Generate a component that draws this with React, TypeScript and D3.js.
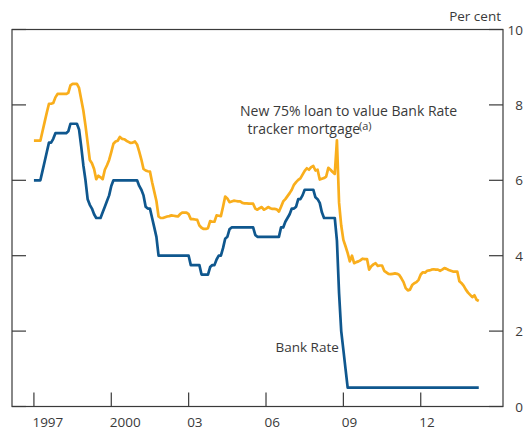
import { useEffect, useRef } from 'react';
import * as d3 from 'd3';

// monthly values, Jan 1997 to Apr 2014
const startYear = 1997;

const bankRate = [
  6, 6, 6, 6, 6.25, 6.5, 6.75, 7, 7, 7.1, 7.25, 7.25, // 1997
  7.25, 7.25, 7.25, 7.25, 7.3, 7.5, 7.5, 7.5, 7.5, 7.35, 6.9, 6.4, // 1998
  6, 5.5, 5.35, 5.25, 5.1, 5, 5, 5, 5.15, 5.3, 5.45, 5.6, // 1999
  5.85, 6, 6, 6, 6, 6, 6, 6, 6, 6, 6, 6, // 2000
  6, 5.85, 5.75, 5.6, 5.3, 5.25, 5.25, 5, 4.75, 4.5, 4, 4, // 2001
  4, 4, 4, 4, 4, 4, 4, 4, 4, 4, 4, 4, // 2002
  4, 3.75, 3.75, 3.75, 3.75, 3.75, 3.5, 3.5, 3.5, 3.5, 3.7, 3.75, // 2003
  3.75, 3.9, 4, 4, 4.2, 4.45, 4.5, 4.7, 4.75, 4.75, 4.75, 4.75, // 2004
  4.75, 4.75, 4.75, 4.75, 4.75, 4.75, 4.75, 4.55, 4.5, 4.5, 4.5, 4.5, // 2005
  4.5, 4.5, 4.5, 4.5, 4.5, 4.5, 4.5, 4.75, 4.75, 4.9, 5, 5.1, // 2006
  5.25, 5.25, 5.3, 5.5, 5.5, 5.6, 5.75, 5.75, 5.75, 5.75, 5.75, 5.55, // 2007
  5.5, 5.4, 5.15, 5, 5, 5, 5, 5, 5, 4.4, 3, 2, // 2008
  1.5, 1, 0.5, 0.5, 0.5, 0.5, 0.5, 0.5, 0.5, 0.5, 0.5, 0.5, // 2009
  0.5, 0.5, 0.5, 0.5, 0.5, 0.5, 0.5, 0.5, 0.5, 0.5, 0.5, 0.5, // 2010
  0.5, 0.5, 0.5, 0.5, 0.5, 0.5, 0.5, 0.5, 0.5, 0.5, 0.5, 0.5, // 2011
  0.5, 0.5, 0.5, 0.5, 0.5, 0.5, 0.5, 0.5, 0.5, 0.5, 0.5, 0.5, // 2012
  0.5, 0.5, 0.5, 0.5, 0.5, 0.5, 0.5, 0.5, 0.5, 0.5, 0.5, 0.5, // 2013
  0.5, 0.5, 0.5, 0.5, // 2014
];

const trackerRate = [
  7.05, 7.05, 7.05, 7.05, 7.3, 7.55, 7.8, 8.03, 8.03, 8.05, 8.2, 8.29, // 1997
  8.29, 8.29, 8.29, 8.29, 8.32, 8.52, 8.56, 8.56, 8.56, 8.45, 8.15, 7.85, // 1998
  7.45, 7, 6.54, 6.45, 6.3, 6.03, 6.12, 6.08, 6.03, 6.28, 6.4, 6.54, // 1999
  6.75, 6.97, 7.03, 7.05, 7.15, 7.1, 7.09, 7.05, 7.02, 6.99, 7, 7.03, // 2000
  6.95, 6.76, 6.55, 6.3, 6.26, 6.24, 6.23, 5.95, 5.7, 5.45, 5.04, 5, // 2001
  5, 5.02, 5.04, 5.05, 5.07, 5.06, 5.05, 5.04, 5.1, 5.14, 5.14, 5.14, // 2002
  5.1, 4.97, 4.97, 4.96, 4.95, 4.8, 4.74, 4.71, 4.71, 4.73, 4.92, 4.9, // 2003
  4.9, 5.07, 5.06, 5.05, 5.3, 5.57, 5.52, 5.42, 5.44, 5.46, 5.45, 5.44, // 2004
  5.44, 5.4, 5.39, 5.39, 5.38, 5.38, 5.38, 5.25, 5.22, 5.26, 5.29, 5.22, // 2005
  5.25, 5.29, 5.26, 5.24, 5.24, 5.23, 5.17, 5.3, 5.44, 5.5, 5.58, 5.66, // 2006
  5.75, 5.88, 5.95, 6.01, 6.05, 6.15, 6.25, 6.32, 6.28, 6.35, 6.38, 6.26, // 2007
  6.28, 6.02, 6.04, 6.06, 6.1, 6.33, 6.28, 6.22, 6.17, 7.06, 5.4, 4.8, // 2008
  4.42, 4.25, 4.07, 3.85, 4, 3.8, 3.83, 3.85, 3.88, 3.92, 3.91, 3.91, // 2009
  3.63, 3.72, 3.77, 3.8, 3.73, 3.74, 3.74, 3.6, 3.56, 3.52, 3.51, 3.52, // 2010
  3.53, 3.52, 3.49, 3.4, 3.3, 3.14, 3.08, 3.1, 3.22, 3.27, 3.3, 3.36, // 2011
  3.5, 3.56, 3.55, 3.6, 3.61, 3.63, 3.64, 3.63, 3.63, 3.6, 3.63, 3.67, // 2012
  3.65, 3.62, 3.6, 3.58, 3.58, 3.58, 3.32, 3.27, 3.2, 3.1, 3.02, 2.96, // 2013
  2.9, 2.95, 2.83, 2.8, // 2014
];

const yearTicks = [1997, 2000, 2003, 2006, 2009, 2012];
const yearLabels = ['1997', '2000', '03', '06', '09', '12'];
const rateTicks = [0, 2, 4, 6, 8, 10];

const ORANGE = '#f9ae1c';
const BLUE = '#0f578e';
const INK = '#3a3a3a';
const FONT = '"Open Sans", sans-serif';

export default function App() {
  const svgRef = useRef(null);

  useEffect(() => {
    const svg = d3.select(svgRef.current);
    svg.selectAll('*').remove();

    const box = { left: 12, right: 503, top: 29.5, bottom: 406.5 };

    const x = d3.scaleLinear().domain([1996.15, 2015.19]).range([box.left, box.right]);
    const y = d3.scaleLinear().domain([0, 10]).range([box.bottom, box.top]);
    const tickLen = 14;

    // frame
    svg.append('rect')
      .attr('x', box.left).attr('y', box.top)
      .attr('width', box.right - box.left).attr('height', box.bottom - box.top)
      .attr('fill', 'none')
      .attr('stroke', INK)
      .attr('stroke-width', 1.2);

    // y ticks, both sides, pointing in
    const yt = svg.append('g').attr('stroke', INK).attr('stroke-width', 1.2);
    yt.selectAll('.tl')
      .data(rateTicks)
      .join('line')
      .attr('x1', box.left).attr('x2', box.left + tickLen)
      .attr('y1', d => y(d)).attr('y2', d => y(d));
    yt.selectAll('.tr')
      .data(rateTicks)
      .join('line')
      .attr('x1', box.right - tickLen).attr('x2', box.right)
      .attr('y1', d => y(d)).attr('y2', d => y(d));

    svg.append('g')
      .selectAll('text')
      .data(rateTicks)
      .join('text')
      .attr('x', 523)
      .attr('y', d => y(d) + 5)
      .attr('text-anchor', 'end')
      .attr('font-size', 13.5)
      .text(d => d);

    // x ticks
    svg.append('g')
      .attr('stroke', INK).attr('stroke-width', 1.2)
      .selectAll('line')
      .data(yearTicks)
      .join('line')
      .attr('x1', d => x(d)).attr('x2', d => x(d))
      .attr('y1', box.bottom - tickLen).attr('y2', box.bottom);

    svg.append('g')
      .selectAll('text')
      .data(yearTicks)
      .join('text')
      .attr('x', d => x(d) - 1.5)
      .attr('y', 426.5)
      .attr('font-size', 13.5)
      .text((d, i) => yearLabels[i]);

    svg.append('text')
      .attr('x', 501).attr('y', 21)
      .attr('text-anchor', 'end')
      .attr('font-size', 13.5)
      .text('Per cent');

    // series
    const line = d3.line()
      .x((d, i) => x(startYear + i / 12))
      .y(d => y(d));

    svg.append('path')
      .datum(trackerRate)
      .attr('fill', 'none')
      .attr('stroke', ORANGE)
      .attr('stroke-width', 2.7)
      .attr('stroke-linejoin', 'round')
      .attr('d', line);

    svg.append('path')
      .datum(bankRate)
      .attr('fill', 'none')
      .attr('stroke', BLUE)
      .attr('stroke-width', 2.7)
      .attr('stroke-linejoin', 'round')
      .attr('d', line);

    // annotations
    svg.append('text')
      .attr('x', 240).attr('y', 116)
      .attr('font-size', 14)
      .text('New 75% loan to value Bank Rate');
    svg.append('text')
      .attr('x', 247.5).attr('y', 134)
      .attr('font-size', 14)
      .text('tracker mortgage');
    svg.append('text')
      .attr('x', 359).attr('y', 130)
      .attr('font-size', 11)
      .text('(a)');

    svg.append('text')
      .attr('x', 275.5).attr('y', 352)
      .attr('font-size', 13.5)
      .text('Bank Rate');

    svg.selectAll('text')
      .attr('fill', INK)
      .attr('font-family', FONT);
  }, []);

  return (
    <svg
      ref={svgRef}
      width={528}
      height={428}
      style={{ position: 'absolute', left: 0, top: 0 }}
    />
  );
}
